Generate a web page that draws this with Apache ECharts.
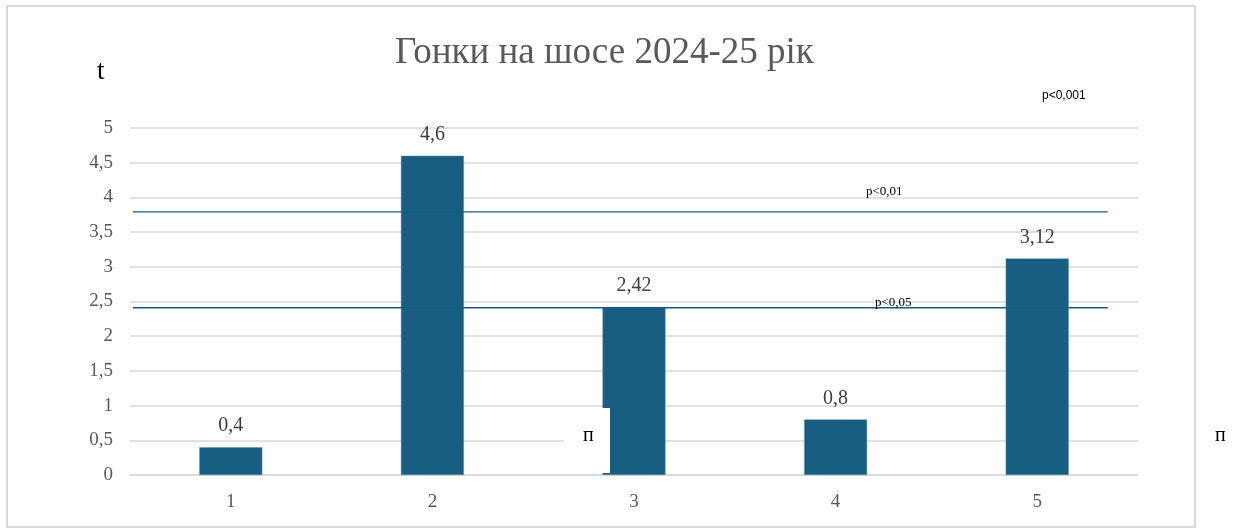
<!DOCTYPE html>
<html>
<head>
<meta charset="utf-8">
<script src="https://cdn.jsdelivr.net/npm/echarts@6/dist/echarts.min.js"></script>
<style>
  html, body { margin: 0; padding: 0; background: #fff; }
  #chart { width: 1241px; height: 529px; }
</style>
</head>
<body>
<div id="chart"></div>
<script>
// data
const categories = ['1', '2', '3', '4', '5']
const tValues = [0.4, 4.6, 2.42, 0.8, 3.12]
const yTicks = [0, 0.5, 1, 1.5, 2, 2.5, 3, 3.5, 4, 4.5, 5]
// critical t levels (p<0,01 and p<0,05)
const critLevels = [3.79, 2.41]
const critSpan = [0.515, 5.35]

const serif = '"Liberation Serif", "DejaVu Serif", serif'
const fmt = v => String(v).replace('.', ',')

const chart = echarts.init(document.getElementById('chart'))

const critSeries = critLevels.map(lv => ({
  type: 'line',
  xAxisIndex: 1,
  symbol: 'none',
  silent: true,
  lineStyle: { color: '#145a88', width: 1.3 },
  data: critSpan.map(x => [x, lv]),
  z: 5
}))

const option = {
  animation: false,
  title: {
    text: 'Гонки на шосе 2024-25 рік',
    left: 390,
    top: 30,
    textStyle: { fontFamily: serif, fontSize: 37, fontWeight: 'normal', color: '#595959' }
  },
  grid: { left: 130, right: 103, top: 128, bottom: 54 },
  xAxis: [
    {
      type: 'category',
      data: categories,
      axisLine: { lineStyle: { color: '#d9d9d9', width: 1.5 } },
      axisTick: { show: false },
      axisLabel: { fontFamily: serif, fontSize: 19, color: '#595959', margin: 18 }
    },
    {
      type: 'value',
      min: 0.5,
      max: 5.5,
      show: false
    }
  ],
  yAxis: {
    type: 'value',
    min: 0,
    max: 5,
    interval: 0.5,
    axisLine: { show: false },
    axisTick: { show: false },
    splitLine: { lineStyle: { color: '#d9d9d9', width: 1.5 } },
    axisLabel: {
      fontFamily: serif, fontSize: 19, color: '#595959', margin: 17,
      formatter: v => yTicks.includes(v) ? fmt(v) : ''
    }
  },
  series: [
    {
      type: 'bar',
      data: tValues,
      barWidth: 63,
      itemStyle: { color: '#175e80', borderColor: '#5b8fae', borderWidth: 0.5 },
      label: {
        show: true,
        position: 'top',
        distance: 11,
        fontFamily: serif,
        fontSize: 20,
        color: '#404040',
        formatter: p => fmt(p.value)
      },
      z: 3
    },
    ...critSeries
  ],
  graphic: [
    {
      type: 'rect',
      shape: { x: 7, y: 6, width: 1188, height: 521 },
      style: { fill: 'none', stroke: '#d9d9d9', lineWidth: 2 },
      silent: true, z: 0
    },
    {
      type: 'text', left: 97, top: 58, z: 10,
      style: { text: 't', font: '27px ' + serif, fill: '#000' }
    },
    {
      type: 'text', left: 1042, top: 90, z: 10,
      style: { text: 'p<0,001', font: '12px "Liberation Sans", Arial, sans-serif', fill: '#000' }
    },
    {
      type: 'text', left: 866, top: 185, z: 10,
      style: { text: 'p<0,01', font: '13px ' + serif, fill: '#000' }
    },
    {
      type: 'text', left: 875, top: 296, z: 10,
      style: { text: 'p<0,05', font: '13px ' + serif, fill: '#000' }
    },
    {
      type: 'rect', z: 10,
      shape: { x: 564, y: 408, width: 46, height: 65 },
      style: { fill: '#fff' }
    },
    {
      type: 'text', left: 583, top: 426, z: 11,
      style: { text: 'п', font: '20px ' + serif, fill: '#000' }
    },
    {
      type: 'text', left: 1215, top: 426, z: 11,
      style: { text: 'п', font: '20px ' + serif, fill: '#000' }
    }
  ]
}

chart.setOption(option)
window.addEventListener('resize', () => chart.resize())
</script>
</body>
</html>
